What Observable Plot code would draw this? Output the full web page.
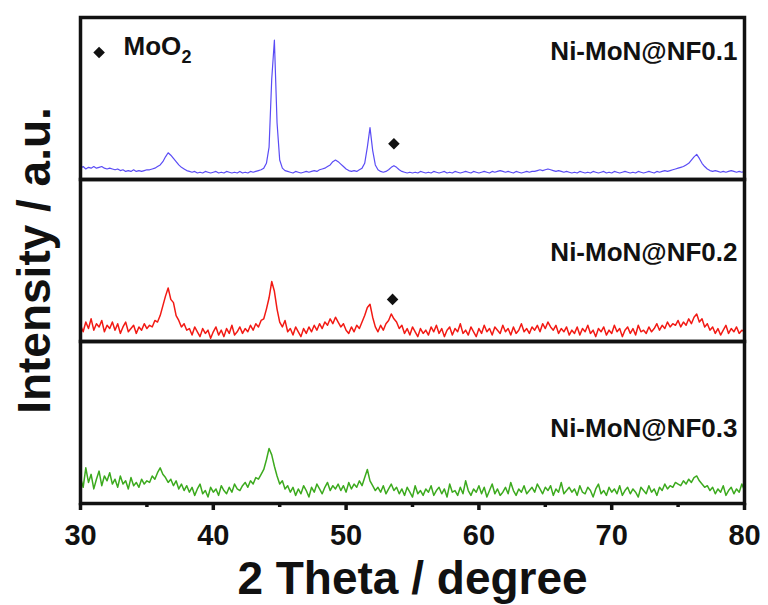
<!DOCTYPE html>
<html>
<head>
<meta charset="utf-8">
<script src="https://cdn.jsdelivr.net/npm/d3@7"></script>
<script src="https://cdn.jsdelivr.net/npm/@observablehq/plot@0.6"></script>
<style>
  html, body { margin: 0; padding: 0; background: #fff; }
  #chart { width: 768px; height: 605px; }
</style>
</head>
<body>
<div id="chart"></div>
<script>
// ---- data ----
const samples = ["Ni-MoN@NF0.1", "Ni-MoN@NF0.2", "Ni-MoN@NF0.3"];
const sampleColors = ["#5a4cf5", "#f21a14", "#3caa1e"];
const sampleLineWidths = [1.2, 1.5, 1.5];
const xTicks = [30, 40, 50, 60, 70, 80];
const xMinorTicks = [35, 45, 55, 65, 75];

// sampling grid: 30° to 80° in 0.2° steps (251 points)
const angles = d3.range(251).map(i => +(30 + i * 0.2).toFixed(1));

// intensities in arbitrary units (0–100 per panel)
const blue = [
  7,8,6.5,7.5,7,8,
  7,7.5,8,7,6.5,7,6.5,
  6,6.5,5.5,6,5,5.5,5,6,5,5.5,5,5.5,6,
  6,6.5,7,8,9,
  11,14,16.5,15,
  13,11,9,7.5,6.5,5.5,
  5,4.5,5,4,4.5,4,5,4.5,4,4.5,5,4,4.5,4,5,4.5,4,4.5,4,5,4,4.5,4,5,4.5,5,5.5,6,
  7,10,20,
  62,86,35,12,
  7,5.5,5,
  4.5,4,5,4.5,4,4.5,5,4.5,5,5.5,5,6,
  6.5,7,8,9,11,
  12,
  11,9.5,8,6.5,
  5.5,5,5.5,5,6,7,
  10,20,32,18,9,
  6,5,4.5,5,
  6,7.5,8.5,7.5,6,
  5,4.5,4,4.5,4,4.5,4,5,4.5,4,
  4.5,4,5,4.5,4,4.5,5,4,4.5,4,5,4.5,4,4.5,5,4.5,4,5,4.5,4,4.5,5,4.5,4,5,4.5,5,5.5,5,4.5,5,4.5,4,5,4.5,4,4.5,5,4.5,5,
  5,5.5,6,5.5,6,6.5,6,5.5,5,5.5,5,4.5,5,4.5,4,
  4.5,4,5,4.5,4,4.5,4,5,4.5,4,4.5,5,4,4.5,4,5,4.5,4,4.5,5,4.5,4,4.5,4,5,4.5,4,4.5,5,4.5,4,5,4.5,5,5.5,5,5.5,6,6.5,7,
  7.5,8,9,10,12,14,
  15.5,
  13,10,8,6.5,5.5,
  5,5.5,5,4.5,5,4.5,5,5.5,5,4.5,5,4.5,5
];
const red = [
  10,6,12,8,14,7,11,9,13,6,10,8,12,
  7,11,5,9,12,6,8,10,5,9,7,11,8,
  10,9,13,12,16,
  22,28,33,26,
  24,16,13,9,11,7,
  8,4,9,6,3,8,5,7,2,6,9,4,7,3,8,5,10,4,6,9,5,8,6,10,7,11,9,13,
  14,20,27,
  37,31,20,12,
  9,13,6,
  8,4,9,6,3,8,5,9,6,10,7,11,
  8,12,10,14,11,
  15,
  12,9,11,7,
  5,9,6,10,8,12,
  16,21,23,15,9,
  6,10,7,11,
  13,17,14,12,8,
  10,5,8,4,9,6,3,8,5,7,
  4,9,6,10,5,8,3,7,9,4,8,6,11,5,7,4,9,6,3,8,5,10,6,8,4,9,7,5,10,6,8,4,9,5,7,11,6,8,5,9,
  7,10,6,11,8,12,9,7,10,5,8,6,9,4,7,
  5,9,4,8,6,10,5,7,3,8,6,9,4,7,5,10,6,8,3,7,9,5,8,4,10,6,7,5,9,6,8,11,7,10,8,12,9,11,10,13,
  9,12,10,14,11,15,
  17,
  12,14,9,11,7,
  9,5,8,4,7,10,5,8,6,9,5,7,6
];
const green = [
  16,10,22,13,18,9,15,20,11,17,14,19,12,
  15,10,17,12,14,9,16,11,13,10,15,12,14,
  13,17,15,19,22,
  18,16,13,15,
  11,14,9,12,8,11,
  7,10,5,9,12,6,8,4,10,7,9,5,11,8,6,10,7,12,9,8,11,13,10,14,12,16,15,18,
  21,27,34,
  30,23,17,12,
  14,9,11,
  7,10,5,9,6,11,8,4,10,7,12,9,
  6,10,13,8,11,
  9,
  12,8,11,7,
  13,9,12,10,14,11,
  16,21,14,11,8,
  10,7,11,6,
  9,12,8,10,6,
  9,5,10,7,4,11,6,8,5,9,
  7,11,5,8,10,6,9,4,12,7,8,5,10,6,14,8,5,9,7,11,6,10,4,8,12,6,9,5,7,10,6,13,8,5,9,7,11,6,8,10,
  7,12,9,6,10,8,11,5,9,7,13,6,8,10,7,
  9,5,11,7,6,10,8,4,9,12,6,8,5,10,7,9,6,11,5,8,10,6,9,7,4,10,8,6,11,7,9,5,10,8,12,9,11,10,13,12,
  11,14,12,15,13,16,
  17,
  14,12,10,11,8,
  10,6,9,7,11,5,8,10,6,9,7,12,8
];
const seriesValues = [blue, red, green];

// sample label positions (panel units)
const labelY = [78.6, 55.1, 45.9];

// MoO2 markers
const markerSample = ["Ni-MoN@NF0.1", "Ni-MoN@NF0.2"];
const markerAngle = [53.6, 53.5];
const markerY = [22, 26];

// legend
const legendText = "MoO";
const legendSub = "2";
const legendAngle = 31.4;
const legendY = 78.4;
const legendTextAngle = 33.24;
const legendTextY = 81.7;
const legendSubY = 75.2;

// ---- build table ----
seriesValues.forEach((s, k) => {
  if (s.length !== angles.length) throw new Error(samples[k] + " has " + s.length + " values, expected " + angles.length);
});
const rows = samples.flatMap((s, k) => angles.map((a, i) => ({sample: s, angle: a, intensity: seriesValues[k][i]})));
const labels = samples.map((s, k) => ({sample: s, y: labelY[k]}));
const markers = markerSample.map((s, k) => ({sample: s, angle: markerAngle[k], y: markerY[k]}));

const lineMarks = samples.map((s, k) =>
  Plot.line(rows.filter(d => d.sample === s), {x: "angle", y: "intensity", fy: "sample", stroke: sampleColors[k], strokeWidth: sampleLineWidths[k]})
);

const chart = Plot.plot({
  width: 768,
  height: 605,
  marginLeft: 80,
  marginRight: 24,
  marginTop: 17,
  marginBottom: 102,
  style: {fontFamily: "'Liberation Sans', Arial, sans-serif", fontWeight: "bold", color: "#111", background: "#fff"},
  x: {domain: [30, 80]},
  y: {domain: [0, 100], axis: null},
  fy: {domain: samples, axis: null, padding: 0},
  marks: [
    ...lineMarks,
    Plot.frame({stroke: "#111", strokeWidth: 3.5}),
    Plot.dot(markers, {x: "angle", y: "y", fy: "sample", symbol: "square", rotate: 45, r: 4.6, fill: "#111", stroke: null}),
    Plot.text(labels, {x: 80, y: "y", fy: "sample", text: "sample", textAnchor: "end", dx: -7, fontSize: 26, fontWeight: "bold", fill: "#111"}),
    Plot.dot([samples[0]], {x: legendAngle, y: legendY, fy: d => d, symbol: "square", rotate: 45, r: 4.6, fill: "#111", stroke: null}),
    Plot.text([samples[0]], {x: legendTextAngle, y: legendTextY, fy: d => d, text: [legendText], textAnchor: "start", fontSize: 26, fontWeight: "bold", fill: "#111"}),
    Plot.text([samples[0]], {x: legendTextAngle, y: legendSubY, fy: d => d, text: [legendSub], textAnchor: "start", dx: 58, fontSize: 18, fontWeight: "bold", fill: "#111"}),
    Plot.axisX(xTicks, {tickSize: 7, tickPadding: 14, strokeWidth: 3.5, fontSize: 29, fontWeight: "bold", label: null, fill: "#111", stroke: "#111"}),
    Plot.axisX(xMinorTicks, {tickSize: 4, text: null, strokeWidth: 3.5, label: null, stroke: "#111"}),
    Plot.text([samples[2]], {fy: d => d, frameAnchor: "bottom", textAnchor: "middle", lineAnchor: "middle", text: ["2 Theta / degree"], dy: 76, fontSize: 46, fontWeight: "bold", fill: "#111"}),
    Plot.text([samples[1]], {fy: d => d, frameAnchor: "left", textAnchor: "middle", lineAnchor: "middle", text: ["Intensity / a.u."], rotate: -90, dx: -45, fontSize: 46, fontWeight: "bold", fill: "#111"})
  ]
});
document.getElementById("chart").appendChild(chart);
</script>
</body>
</html>
